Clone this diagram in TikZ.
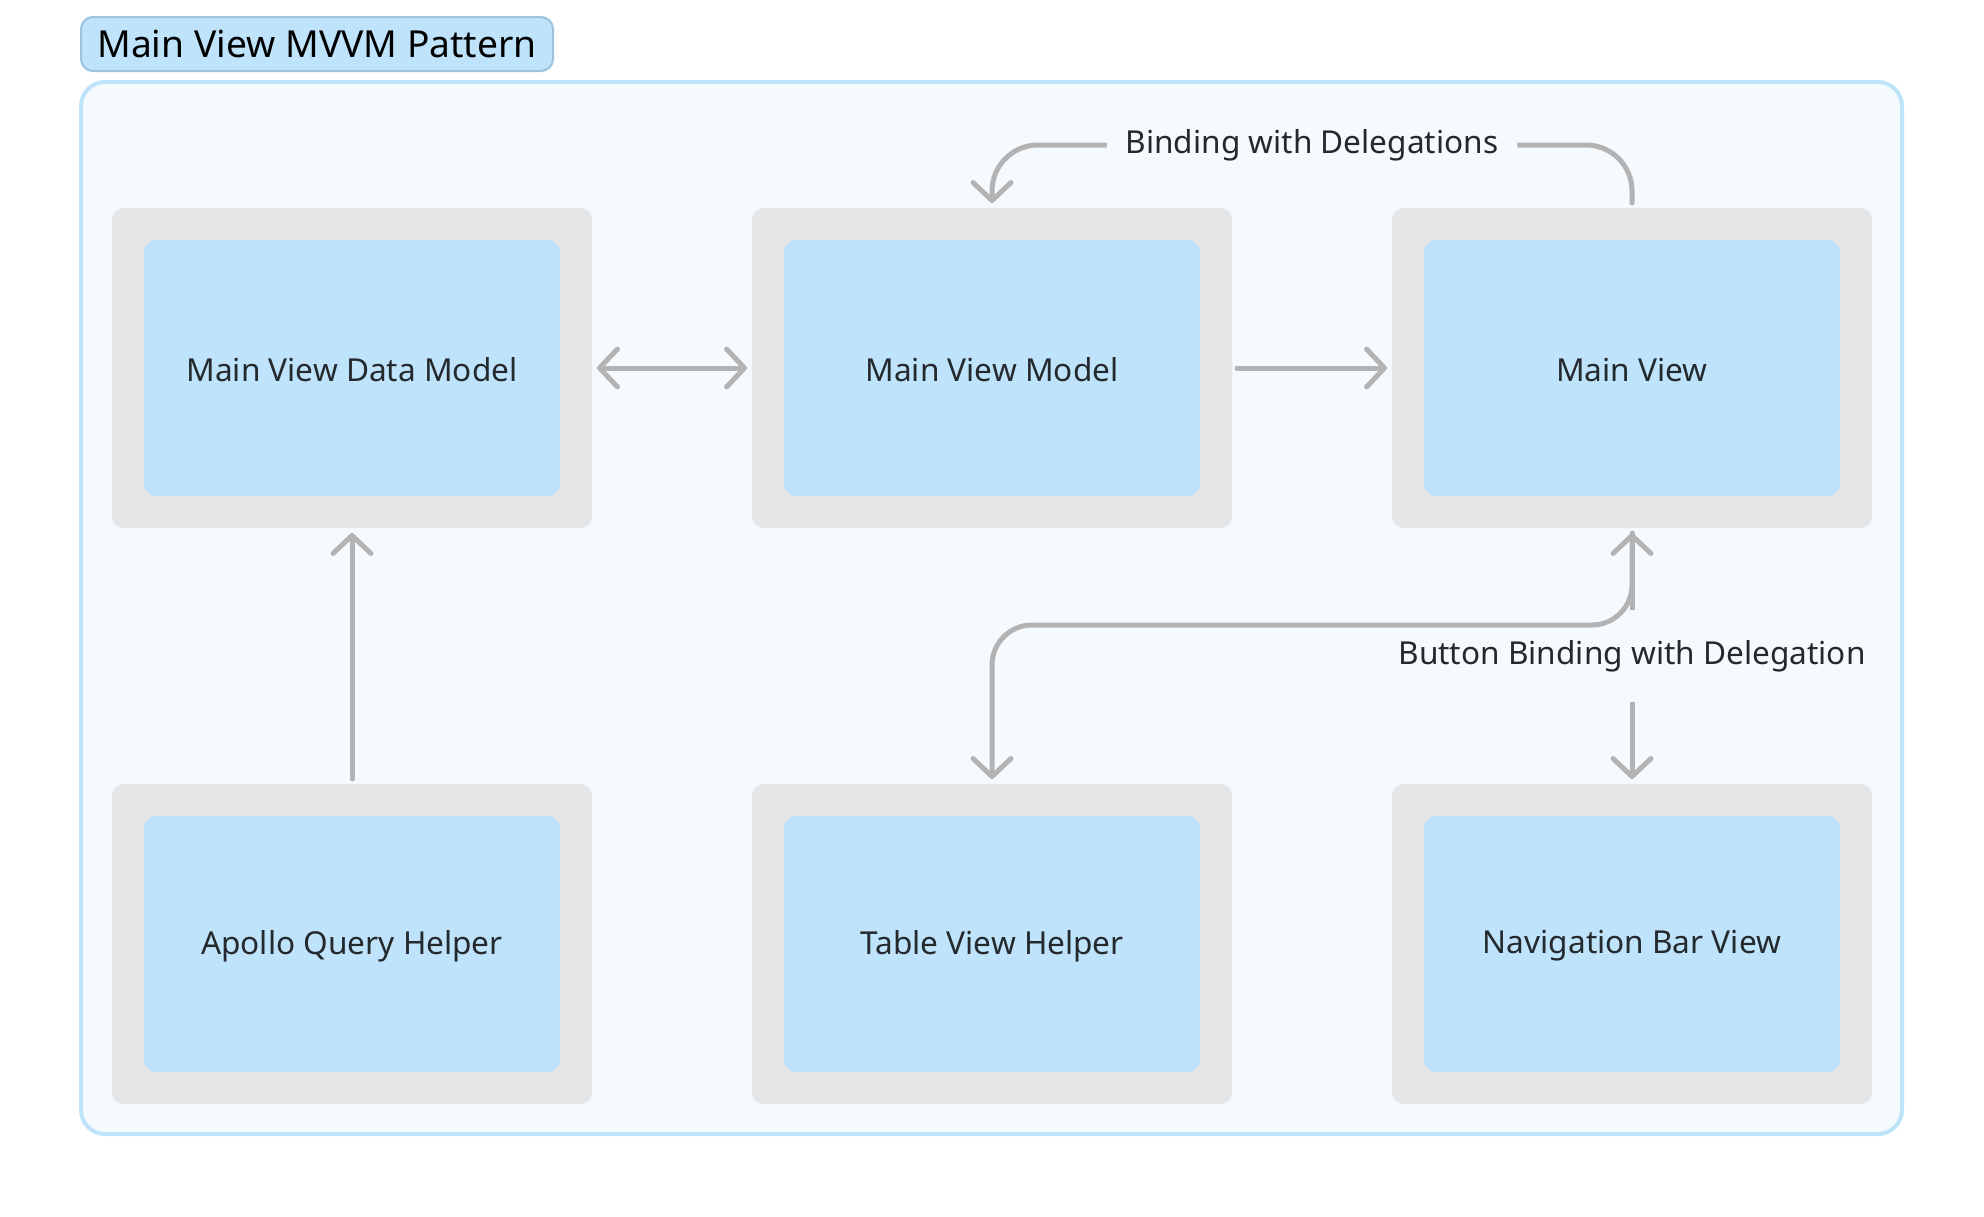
\documentclass[tikz,border=0pt]{standalone}
\usepackage{fontspec}
\setmainfont{Noto Sans}
\usetikzlibrary{arrows.meta}

\definecolor{panelbg}{HTML}{F4FAFE}
\definecolor{panelline}{HTML}{BEE3FB}
\definecolor{boxblue}{HTML}{BEE3FB}
\definecolor{titleline}{HTML}{9DC3DF}
\definecolor{framegray}{HTML}{E5E5E5}
\definecolor{arrowgray}{HTML}{B3B3B3}
\definecolor{textdark}{HTML}{24292E}

\tikzset{
  >={Straight Barb[length=9pt,width=19pt,round]},
  panel/.style={draw=panelline, fill=panelbg, line width=2pt, rounded corners=12pt,
    minimum width=910.5pt, minimum height=526pt, inner sep=0pt},
  titlebox/.style={draw=titleline, fill=boxblue, line width=1pt, rounded corners=6pt,
    minimum width=236pt, minimum height=27pt, inner sep=0pt, text=black,
    font=\fontsize{18.6}{22}\selectfont},
  outerbox/.style={fill=framegray, rounded corners=6pt, minimum width=240pt,
    minimum height=160pt, inner sep=0pt, outer sep=2.5pt},
  innerbox/.style={fill=boxblue, rounded corners=6pt, minimum width=208pt,
    minimum height=128pt, inner sep=0pt},
  boxtext/.style={text=textdark, inner sep=0pt, font=\fontsize{15.8}{18}\selectfont},
  conn/.style={draw=arrowgray, line width=2.5pt, line cap=round, line join=round},
  gap/.style={fill=panelbg, draw=panelbg, line width=2pt, text=textdark,
    inner xsep=8.5pt, inner ysep=5pt, font=\fontsize{15.8}{18}\selectfont},
  vgap/.style={gap, inner ysep=14pt}
}

\begin{document}
\begin{tikzpicture}[x=0.5pt,y=-0.5pt]
\fill[white] (0,0) rectangle (1984,1216);
\useasboundingbox (0,0) rectangle (1984,1216);

% group
\node[panel] (panel) at (991.5,608) {};
\node[titlebox] (title) at (317,44) {Main View MVVM Pattern};

% upper row
\node[outerbox] (dmodel) at (352,368) {};
\node[innerbox] (dmodel-in) at (dmodel.center) {};
\node[boxtext] (dmodel-txt) at (352,370) {Main View Data Model};
\node[outerbox] (vmodel) at (992,368) {};
\node[innerbox] (vmodel-in) at (vmodel.center) {};
\node[boxtext] (vmodel-txt) at (992,370) {Main View Model};
\node[outerbox] (mview) at (1632,368) {};
\node[innerbox] (mview-in) at (mview.center) {};
\node[boxtext] (mview-txt) at (1632,370) {Main View};

% lower row
\node[outerbox] (apollo) at (352,944) {};
\node[innerbox] (apollo-in) at (apollo.center) {};
\node[boxtext] (apollo-txt) at (352,946) {Apollo Query Helper};
\node[outerbox] (table) at (992,944) {};
\node[innerbox] (table-in) at (table.center) {};
\node[boxtext] (table-txt) at (992,946) {Table View Helper};
\node[outerbox] (navbar) at (1632,944) {};
\node[innerbox] (navbar-in) at (navbar.center) {};
\node[boxtext] (navbar-txt) at (1632,946) {Navigation Bar View};

% connections
\draw[conn,<->] (dmodel) -- (vmodel);
\draw[conn,->] (vmodel) -- (mview);
\draw[conn,->] (apollo) -- (dmodel);
\draw[conn,->,rounded corners=23pt] (mview.north) -- ++(0,-58)
  -| node[pos=0.25,gap] {Binding with Delegations} (vmodel.north);
\draw[conn,->] (mview.south) -- node[vgap] {Button Binding with Delegation} (navbar.north);
\draw[conn,<->,rounded corners=20pt] (mview.south) -- ++(0,92) -| (table.north);

\end{tikzpicture}
\end{document}
